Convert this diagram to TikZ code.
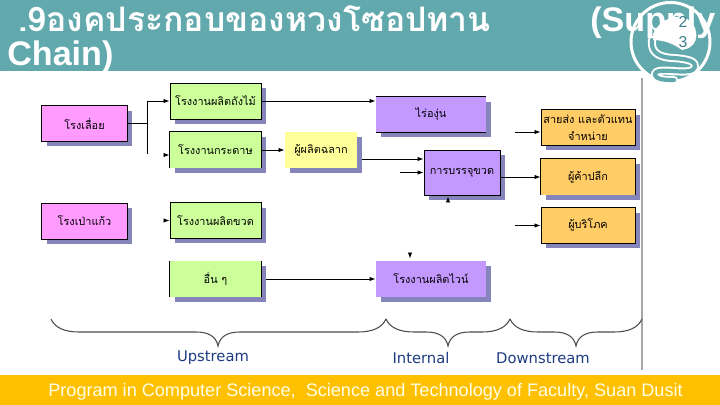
\documentclass[tikz,border=0pt]{standalone}
\usepackage{fontspec}
\setmainfont{Liberation Sans}
\newfontfamily\thaifont[Script=Thai]{Loma}
\newfontfamily\widefont{DejaVu Sans}
\usetikzlibrary{shadows,arrows.meta}
\definecolor{headcol}{HTML}{62A9AD}
\definecolor{footcol}{HTML}{FFC000}
\definecolor{shadecol}{HTML}{8585BC}
\definecolor{pinkcol}{HTML}{FF9BFF}
\definecolor{greencol}{HTML}{CCFF99}
\definecolor{yellowcol}{HTML}{FFFF99}
\definecolor{purplecol}{HTML}{C499FF}
\definecolor{orangecol}{HTML}{FFCC66}
\definecolor{bluecol}{HTML}{1F3C82}
\definecolor{digitcol}{HTML}{3F7F8C}
\begin{document}
\begin{tikzpicture}[x=0.02cm,y=-0.02cm,
  boxnode/.style={inner sep=0pt,align=center,font=\thaifont\fontsize{6.2}{10}\selectfont,minimum height=0.72cm,
    drop shadow={shadow xshift=0.1cm,shadow yshift=-0.1cm,opacity=1,fill=shadecol}},
  pinkbox/.style={boxnode,draw,fill=pinkcol,minimum width=1.72cm},
  greenbox/.style={boxnode,fill=greencol,minimum width=1.82cm},
  yellowbox/.style={boxnode,fill=yellowcol,minimum width=1.44cm},
  purplebox/.style={boxnode,fill=purplecol,minimum width=2.2cm},
  orangebox/.style={boxnode,fill=orangecol,minimum width=1.88cm},
  link/.style={-{Latex[length=3.5pt,width=2.5pt]},line width=0.5pt},
  stub/.style={{Latex[length=3.5pt,width=2.5pt]}-,line width=0.5pt},
  side/.style={line width=0.5pt},
  zone/.style={font=\widefont\fontsize{8.4}{10}\selectfont,text=bluecol,inner sep=0pt}]
\useasboundingbox (0,0) rectangle (720,405);
\fill[white] (0,0) rectangle (720,405);
\fill[headcol] (0,0) rectangle (720,71);
\fill[footcol] (0,375) rectangle (720,405);
\draw[fill=headcol,draw=white,line width=1.7pt] (670.5,42) circle (39.5);
\draw[white,line width=1.1pt,double=headcol,double distance=2.4pt,line cap=round,line join=round]
  (652,40) .. controls (651,50) and (655,57) .. (673,58) .. controls (690,59) and (696,62) .. (695,67)
  .. controls (694,72) and (685,72) .. (672,71) .. controls (660,70) and (654,71) .. (655,75)
  .. controls (656,79) and (662,80) .. (674,80);
\fill[white] (653,34) .. controls (660,18) and (682,10) .. (693,24) .. controls (700,36) and (696,48) .. (682,50)
  .. controls (674,44) and (664,40) .. (653,40) -- cycle;
\node[anchor=base west,inner sep=0pt,text=white,font=\thaifont\bfseries\fontsize{19.2}{22}\selectfont] (title) at (18,32) {.9องคประกอบของหวงโซอปทาน};
\node[anchor=base west,inner sep=0pt,text=white,font=\bfseries\fontsize{19.4}{22}\selectfont] (supply) at (590,32) {(Supply};
\node[anchor=base west,inner sep=0pt,text=white,font=\bfseries\fontsize{19.4}{22}\selectfont] (chain) at (7,66) {Chain)};
\node[inner sep=0pt,text=digitcol,font=\fontsize{9}{10}\selectfont] (two) at (683,22) {2};
\node[inner sep=0pt,text=digitcol,font=\fontsize{9}{10}\selectfont] (three) at (683,42) {3};
\node[inner sep=0pt,anchor=base west,text=white!90!yellow,font=\fontsize{10.3}{12}\selectfont] (foot) at (48,396) {Program in Computer Science,\ \ Science and Technology of Faculty, Suan Dusit};
\node[pinkbox] (mill) at (84.5,123.5) {โรงเลื่อย};
\node[pinkbox] (glass) at (84.5,221) {โรงเป่าแก้ว};
\node[greenbox,draw] (barrel) at (215.5,101) {โรงงานผลิตถังไม้};
\node[greenbox] (paper) at (215.5,150) {โรงงานกระดาษ};
\node[greenbox,draw] (bottle) at (215.5,220.5) {โรงงานผลิตขวด};
\node[greenbox] (other) at (215.5,279) {อื่น ๆ};
\node[yellowbox] (label) at (321,150) {ผู้ผลิตฉลาก};
\node[purplebox] (vine) at (431,114.5) {ไร่องุ่น};
\node[purplebox,minimum width=1.52cm,minimum height=0.9cm,draw] (fill) at (462,172.5) {การบรรจุขวด};
\node[purplebox] (winery) at (431,279) {โรงงานผลิตไวน์};
\node[orangebox,draw,font=\thaifont\fontsize{6.2}{10}\selectfont] (whole) at (588,127.5) {สายส่ง และตัวแทน\\จำหน่าย};
\node[orangebox] (retail) at (588,177) {ผู้ค้าปลีก};
\node[orangebox,draw] (user) at (588,225.5) {ผู้บริโภค};
\draw[side] (paper.south west) -- (paper.north west) -- (paper.north east) -- (paper.south east);
\draw[side] (other.north west) -- (other.south west) (other.north east) -- (other.south east);
\draw[side] (vine.north west) -- (vine.north east) (vine.south west) -- (vine.south east);
\draw[side] (retail.south west) -- (retail.north west) -- (retail.north east) -- (retail.south east);
\coordinate (fork) at (147,123.5);
\coordinate (forkup) at (147,101);
\coordinate (forkdown) at (147,154);
\draw[side] (mill.east) -- (fork);
\draw[side] (forkup) -- (forkdown);
\draw[link] (forkup) -- (barrel.west);
\draw[stub] (paper.west) ++(0,5) -- ++(-4,0);
\draw[stub] (bottle.west) -- ++(-4,0);
\draw[link] (barrel.east) -- (vine.west |- barrel.east);
\draw[link] (paper.east) -- (label.west);
\coordinate (labelout) at (362,159);
\coordinate (freefill) at (400,172.5);
\coordinate (freewhole) at (515,132);
\coordinate (freeuser) at (515,225.5);
\coordinate (freewinery) at (266,279);
\draw[link] (labelout) -- (fill.west |- labelout);
\draw[link] (freefill) -- (fill.west);
\draw[link] (fill.east |- retail.west) -- (retail.west);
\draw[link] (freewhole) -- (whole.west |- freewhole);
\draw[link] (freeuser) -- (user.west);
\draw[link] (freewinery) -- (winery.west);
\draw[stub] (fill.south) ++(-14,1) -- ++(0,4);
\draw[stub] (winery.north) ++(-21,-2) -- ++(0,-3);
\draw[line width=1.4pt,color=gray!70] (642,78) -- (642,370);
\foreach \xa/\xm/\xb in {51/218/386,386/448/510,510/576/642}
  \draw[line width=0.6pt,color=black!70] (\xa,319) .. controls (\xa+4,328) and (\xa+14,332) .. (\xa+28,332)
    -- (\xm-22,332) .. controls (\xm-10,332) and (\xm-2,336) .. (\xm,346)
    .. controls (\xm+2,336) and (\xm+10,332) .. (\xm+22,332)
    -- (\xb-28,332) .. controls (\xb-14,332) and (\xb-4,328) .. (\xb,319);
\node[zone] (up) at (213,358) {Upstream};
\node[zone] (in) at (421,358) {Internal};
\node[zone] (down) at (543,358) {Downstream};
\end{tikzpicture}
\end{document}
